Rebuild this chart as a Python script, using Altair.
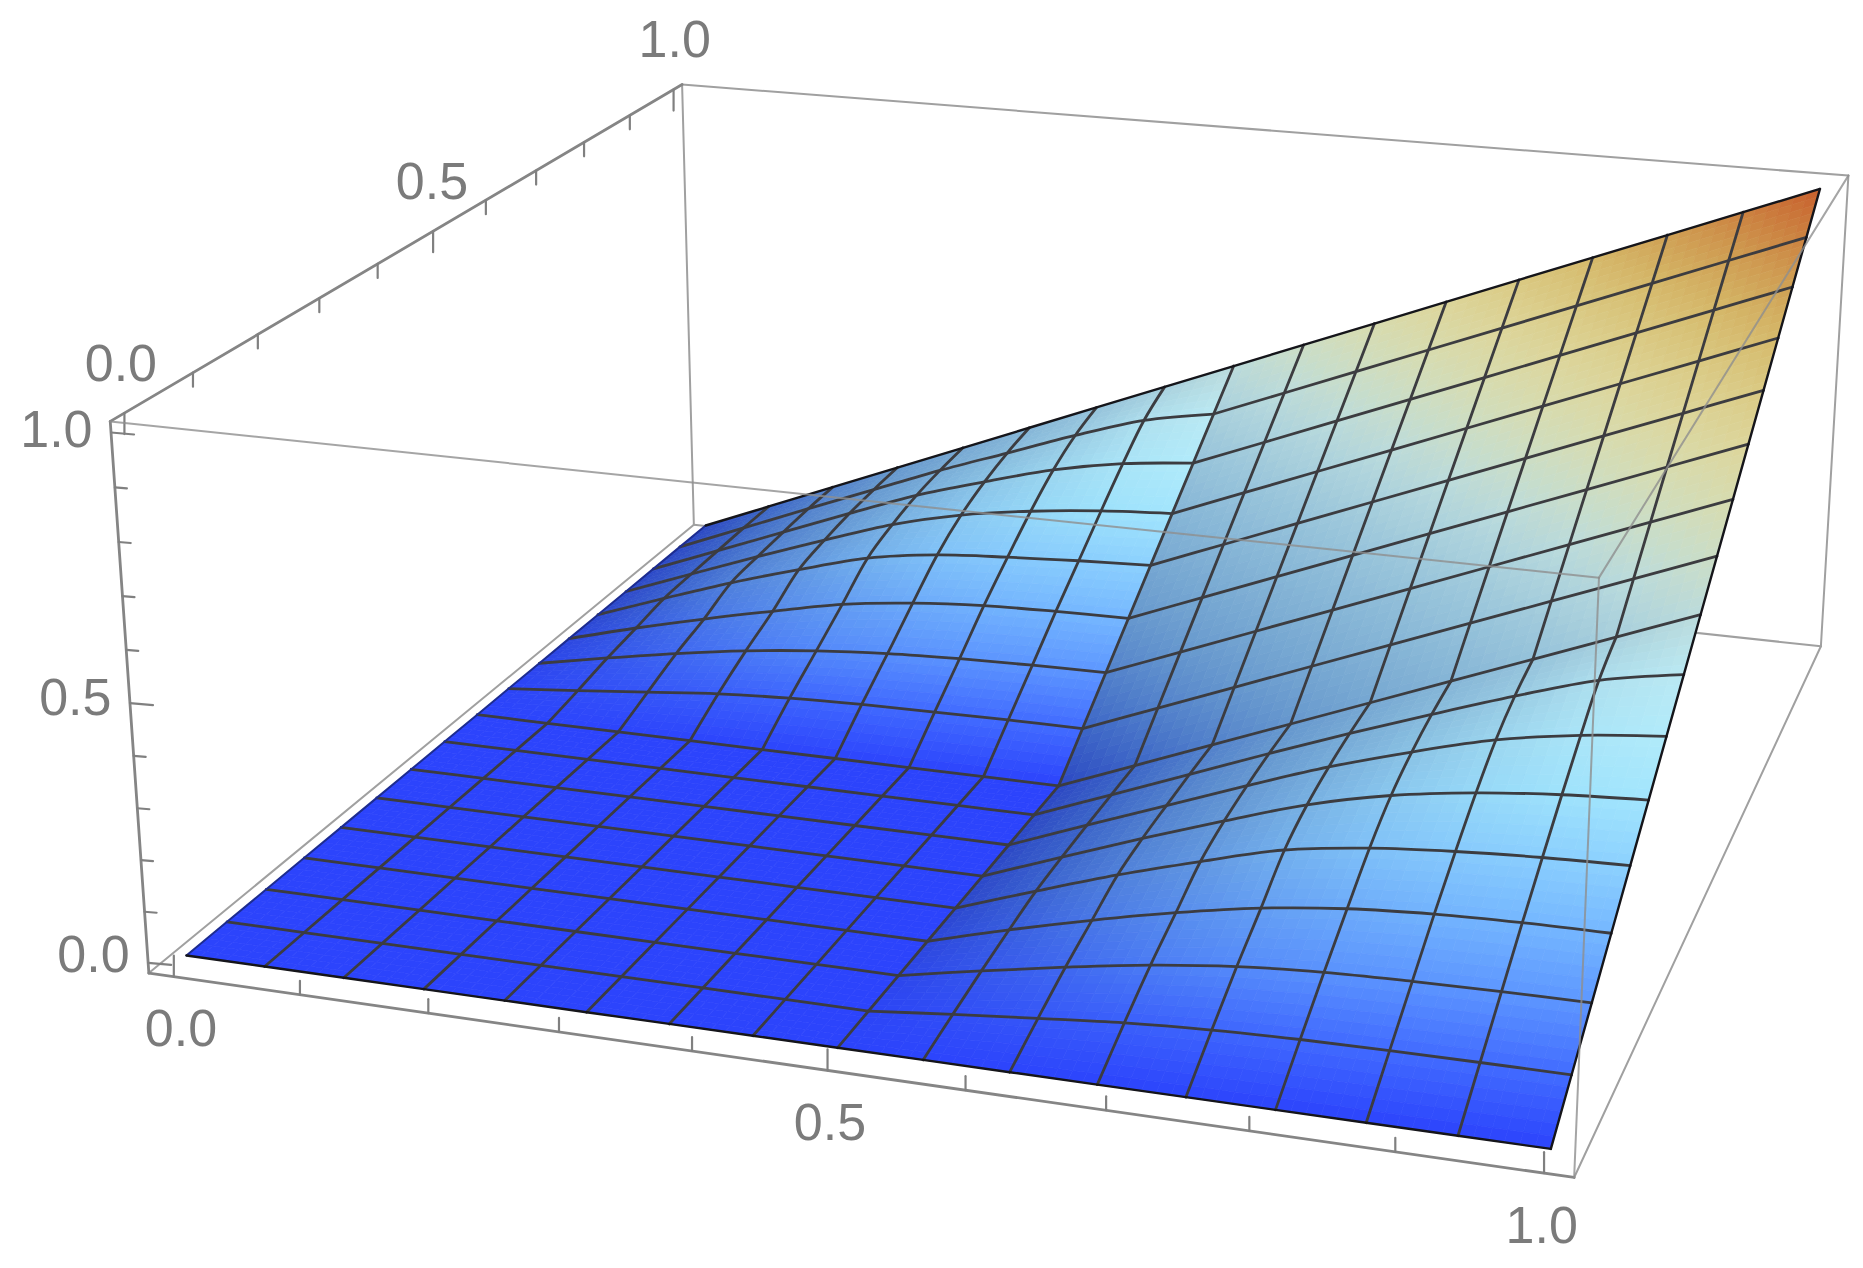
import altair as alt
import numpy as np
import pandas as pd

W, H = 1847, 1252
K = 1863 / 1568  # reference picture units -> page pixels

# axis ticks and labels
tick_values = [0.0, 0.1, 0.2, 0.3, 0.4, 0.5, 0.6, 0.7, 0.8, 0.9, 1.0]
label_values = [0.0, 0.5, 1.0]
label_texts = ["0.0", "0.5", "1.0"]

# mesh lines
mesh_u = [i / 16 for i in range(17)]
mesh_v = [j / 16 for j in range(17)]

# surface heights, one 9x9 block per quadrant (rows: v, columns: u)
lower_left = [[0.0] * 9 for _ in range(9)]
upper_right = [
    [0.0000, 0.0625, 0.1250, 0.1875, 0.2500, 0.3125, 0.3750, 0.4375, 0.5000],
    [0.0625, 0.1250, 0.1875, 0.2500, 0.3125, 0.3750, 0.4375, 0.5000, 0.5625],
    [0.1250, 0.1875, 0.2500, 0.3125, 0.3750, 0.4375, 0.5000, 0.5625, 0.6250],
    [0.1875, 0.2500, 0.3125, 0.3750, 0.4375, 0.5000, 0.5625, 0.6250, 0.6875],
    [0.2500, 0.3125, 0.3750, 0.4375, 0.5000, 0.5625, 0.6250, 0.6875, 0.7500],
    [0.3125, 0.3750, 0.4375, 0.5000, 0.5625, 0.6250, 0.6875, 0.7500, 0.8125],
    [0.3750, 0.4375, 0.5000, 0.5625, 0.6250, 0.6875, 0.7500, 0.8125, 0.8750],
    [0.4375, 0.5000, 0.5625, 0.6250, 0.6875, 0.7500, 0.8125, 0.8750, 0.9375],
    [0.5000, 0.5625, 0.6250, 0.6875, 0.7500, 0.8125, 0.8750, 0.9375, 1.0000],
]
upper_left = [
    [0, 0.000, 0.000, 0.000, 0.000, 0.000, 0.000, 0.000, 0.000],
    [0, 0.014, 0.029, 0.044, 0.053, 0.058, 0.060, 0.062, 0.0625],
    [0, 0.030, 0.058, 0.082, 0.100, 0.112, 0.119, 0.123, 0.125],
    [0, 0.042, 0.080, 0.115, 0.148, 0.168, 0.180, 0.185, 0.1875],
    [0, 0.055, 0.108, 0.155, 0.198, 0.222, 0.234, 0.243, 0.250],
    [0, 0.058, 0.115, 0.170, 0.222, 0.260, 0.285, 0.302, 0.3125],
    [0, 0.060, 0.120, 0.180, 0.238, 0.285, 0.328, 0.358, 0.375],
    [0, 0.062, 0.124, 0.185, 0.246, 0.302, 0.358, 0.408, 0.4375],
    [0, 0.0625, 0.125, 0.1875, 0.250, 0.3125, 0.375, 0.4375, 0.500],
]
lower_right = [
    [0, 0.000, 0.000, 0.000, 0.000, 0.000, 0.000, 0.000, 0.000],
    [0, 0.016, 0.031, 0.045, 0.054, 0.059, 0.061, 0.062, 0.0625],
    [0, 0.031, 0.060, 0.086, 0.105, 0.116, 0.121, 0.124, 0.125],
    [0, 0.044, 0.084, 0.120, 0.150, 0.170, 0.181, 0.186, 0.1875],
    [0, 0.055, 0.108, 0.155, 0.198, 0.222, 0.236, 0.245, 0.250],
    [0, 0.059, 0.117, 0.172, 0.224, 0.262, 0.287, 0.303, 0.3125],
    [0, 0.061, 0.121, 0.181, 0.238, 0.287, 0.330, 0.358, 0.375],
    [0, 0.062, 0.124, 0.186, 0.246, 0.303, 0.358, 0.408, 0.4375],
    [0, 0.0625, 0.125, 0.1875, 0.250, 0.3125, 0.375, 0.4375, 0.500],
]

# colours seen on the surface by height: where it is level in u, and where it climbs fully in u
palette_z = [0.0, 0.05, 0.1, 0.2, 0.3, 0.4, 0.5, 0.6, 0.7, 0.8, 0.9, 1.0]
level_rgb = [
    (44, 68, 252), (60, 98, 255), (84, 138, 255), (122, 190, 255), (160, 230, 255), (188, 244, 255),
    (205, 245, 250), (235, 245, 215), (250, 240, 180), (240, 215, 130), (225, 165, 85), (215, 105, 50),
]
tilted_rgb = [
    (44, 72, 195), (55, 95, 197), (74, 120, 202), (106, 156, 206), (130, 178, 213), (155, 199, 220),
    (188, 220, 220), (214, 222, 182), (222, 212, 150), (214, 190, 110), (205, 150, 75), (200, 95, 45),
]

# camera calibration: cube/surface points -> points in the reference picture
p = 0.02
calib = [
    ((-p, -p, -p), (125, 820)), ((1 + p, -p, -p), (1325, 992)), ((1 + p, 1 + p, -p), (1533, 544)),
    ((-p, 1 + p, -p), (585, 443)), ((-p, -p, 1 + p), (92, 355)), ((1 + p, -p, 1 + p), (1346, 486)),
    ((1 + p, 1 + p, 1 + p), (1556, 147)), ((-p, 1 + p, 1 + p), (575, 71)),
    ((0, 0, 0), (158, 803)), ((1, 0, 0), (1305, 966)), ((1, 1, 1), (1531, 160)), ((0, 1, 0), (592, 441)),
]
A = []
for (X, Y, Z_), (x, y) in calib:
    x, y = x * K / 1000, y * K / 1000
    A.append([X, Y, Z_, 1, 0, 0, 0, 0, -x * X, -x * Y, -x * Z_, -x])
    A.append([0, 0, 0, 0, X, Y, Z_, 1, -y * X, -y * Y, -y * Z_, -y])
P = np.linalg.svd(np.array(A))[2][-1].reshape(3, 4)


def project(u, v, z):
    q = P @ np.array([u, v, z, 1.0])
    return 1000 * q[0] / q[2], 1000 * q[1] / q[2]


Z = np.zeros((17, 17))
Z[0:9, 0:9] = lower_left
Z[8:17, 8:17] = upper_right
Z[8:17, 0:9] = upper_left
Z[0:9, 8:17] = lower_right


def slope_u(j, i, side):
    lo_, hi_ = (0, 8) if side == 0 else (8, 16)
    a, b = max(lo_, i - 1), min(hi_, i + 1)
    return (Z[j, b] - Z[j, a]) / ((b - a) / 16)


def shaded(j, i, side):
    z = Z[j, i]
    g = max(0.0, min(1.0, slope_u(j, i, side))) ** 1.6
    flat = np.array([np.interp(z, palette_z, [c[k] for c in level_rgb]) for k in range(3)])
    tilt = np.array([np.interp(z, palette_z, [c[k] for c in tilted_rgb]) for k in range(3)])
    return flat * (1 - g) + tilt * g


# surface cells, drawn back to front
N = 6
features = []
for j in range(15, -1, -1):
    for i in range(16):
        side = 0 if i < 8 else 1
        c00, c10 = shaded(j, i, side), shaded(j, i + 1, side)
        c01, c11 = shaded(j + 1, i, side), shaded(j + 1, i + 1, side)
        z00, z10, z01, z11 = Z[j, i], Z[j, i + 1], Z[j + 1, i], Z[j + 1, i + 1]
        for b in range(N - 1, -1, -1):
            for a in range(N):
                ring = []
                for s, t in [(a, b), (a + 1, b), (a + 1, b + 1), (a, b + 1), (a, b)]:
                    s, t = s / N, t / N
                    z = z00 * (1 - s) * (1 - t) + z10 * s * (1 - t) + z01 * (1 - s) * t + z11 * s * t
                    x, y = project(mesh_u[i] + s / 16, mesh_v[j] + t / 16, z)
                    ring.append([round(x - 8, 2), round(y - 8, 2)])
                s, t = (a + 0.5) / N, (b + 0.5) / N
                col = c00 * (1 - s) * (1 - t) + c10 * s * (1 - t) + c01 * (1 - s) * t + c11 * s * t
                hexc = "#%02x%02x%02x" % tuple(int(round(min(255, v))) for v in col)
                features.append({
                    "type": "Feature",
                    "geometry": {"type": "Polygon", "coordinates": [ring]},
                    "properties": {"c": hexc},
                })


def polyline_frame(lines):
    rows = []
    for k, pts in enumerate(lines):
        for o, (x, y) in enumerate(pts):
            rows.append({"id": k, "o": o, "x": x, "y": y})
    return pd.DataFrame(rows)


xs = alt.Scale(domain=[8, 8 + W])
ys = alt.Scale(domain=[8 + H, 8])


def lines_layer(lines, color, width, opacity=1.0, curve="linear"):
    return alt.Chart(polyline_frame(lines)).mark_line(
        color=color, strokeWidth=width, opacity=opacity, strokeCap="round", strokeJoin="round",
        interpolate=curve,
    ).encode(
        x=alt.X("x:Q", scale=xs, axis=None),
        y=alt.Y("y:Q", scale=ys, axis=None),
        detail="id:N",
        order="o:Q",
    )


lo, hi = -p, 1 + p
corner = project
back_edges = [
    [corner(lo, hi, lo), corner(hi, hi, lo)],
    [corner(lo, hi, lo), corner(lo, hi, hi)],
    [corner(lo, hi, hi), corner(hi, hi, hi)],
    [corner(lo, lo, lo), corner(lo, hi, lo)],
    [corner(hi, lo, lo), corner(hi, hi, lo)],
    [corner(hi, hi, lo), corner(hi, hi, hi)],
]
front_edges = [
    [corner(lo, lo, hi), corner(hi, lo, hi)],
    [corner(hi, lo, hi), corner(hi, hi, hi)],
    [corner(hi, lo, lo), corner(hi, lo, hi)],
]
axis_edges = [
    [corner(lo, lo, lo), corner(hi, lo, lo)],
    [corner(lo, lo, lo), corner(lo, lo, hi)],
    [corner(lo, lo, hi), corner(lo, hi, hi)],
]

# ticks
ticks = []
labels = []
for t in tick_values:
    major = t in label_values
    x, y = project(t, lo, lo)
    ticks.append([(x, y), (x, y - (21 if major else 14))])
    x, y = project(lo, t, hi)
    ticks.append([(x, y), (x, y + (21 if major else 14))])
    x, y = project(lo, lo, t)
    ticks.append([(x, y), (x + (23 if major else 12), y + (2 if major else 1))])
for t, s in zip(label_values, label_texts):
    x, y = project(t, lo, lo)
    labels.append({"x": x + (6 - 8 * t) * K, "y": y + 45 * K, "t": s})
    x, y = project(lo, t, hi)
    labels.append({"x": x + (-3 + 4 * t) * K, "y": y - 40.5 * K, "t": s})
    x, y = project(lo, lo, t)
    labels.append({"x": x - 46 * K, "y": y + (-6 + 5 * t) * K, "t": s})

# mesh lines, each broken where the surface creases so the curve keeps the sharp corner
mesh = []
for j in range(1, 16):
    mesh.append([project(mesh_u[i], mesh_v[j], Z[j, i]) for i in range(0, 9)])
    mesh.append([project(mesh_u[i], mesh_v[j], Z[j, i]) for i in range(8, 17)])
for i in range(1, 16):
    mesh.append([project(mesh_u[i], mesh_v[j], Z[j, i]) for j in range(0, 9)])
    mesh.append([project(mesh_u[i], mesh_v[j], Z[j, i]) for j in range(8, 17)])
outline = [
    [project(mesh_u[i], 0, Z[0, i]) for i in range(17)],
    [project(mesh_u[i], 1, Z[16, i]) for i in range(17)],
    [project(1, mesh_v[j], Z[j, 16]) for j in range(17)],
]
left_edge = [[project(0, mesh_v[j], Z[j, 0]) for j in range(17)]]

surface = alt.Chart(alt.Data(values=features)).mark_geoshape(strokeWidth=0.7).encode(
    fill=alt.Fill("properties.c:N", scale=None, legend=None),
    stroke=alt.Stroke("properties.c:N", scale=None, legend=None),
).project(type="identity", scale=1, translate=[0, 0])

text = alt.Chart(pd.DataFrame(labels)).mark_text(
    font="Liberation Sans", fontSize=52, color="#7b7b7b", align="center", baseline="middle"
).encode(
    x=alt.X("x:Q", scale=xs, axis=None),
    y=alt.Y("y:Q", scale=ys, axis=None),
    text="t:N",
)

chart = alt.layer(
    lines_layer(back_edges, "#a0a0a0", 2.0),
    lines_layer(axis_edges, "#858585", 2.8),
    lines_layer(ticks, "#808080", 2.2),
    surface,
    lines_layer(mesh, "#3c3c40", 2.8, curve="catmull-rom"),
    lines_layer(left_edge, "#1d2c90", 2.0),
    lines_layer(outline, "#15151a", 2.4),
    lines_layer(front_edges, "#8e8e8e", 2.0, 0.8),
    text,
).properties(
    width=W, height=H, autosize=alt.AutoSizeParams(type="none"), padding=0,
).configure_view(stroke=None)

chart.save("out.html", embed_options={"renderer": "svg", "actions": False})
